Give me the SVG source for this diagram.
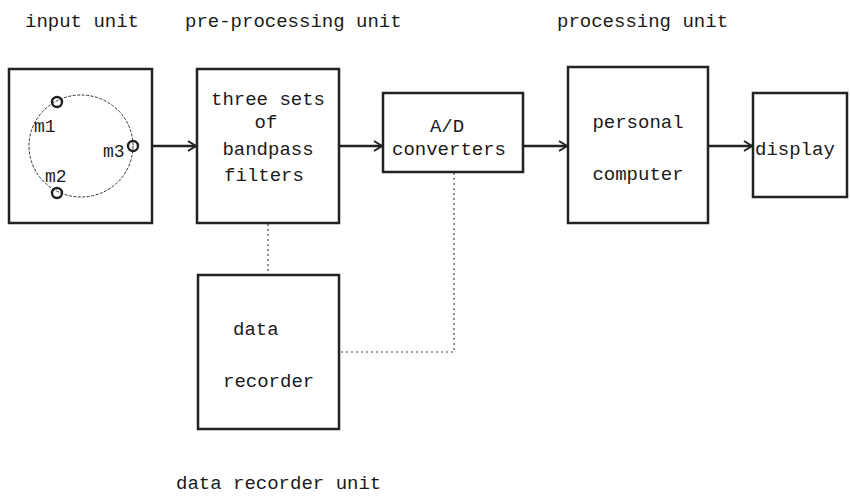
<svg xmlns="http://www.w3.org/2000/svg" width="850" height="497" viewBox="0 0 850 497">
<defs>
<marker id="arr" markerUnits="userSpaceOnUse" markerWidth="12" markerHeight="12" refX="10" refY="6" orient="auto">
<path d="M2,1 L10,6 L2,11" fill="none" stroke="#222" stroke-width="2"/>
</marker>
<style>
.box{fill:#fff;stroke:#222;stroke-width:2.5}
.t{font-family:"Liberation Mono","DejaVu Sans Mono",monospace;font-size:19px;fill:#1a1a1a}
.m{font-family:"Liberation Mono","DejaVu Sans Mono",monospace;font-size:18px;fill:#1a1a1a}
.c{text-anchor:middle}
.arrow{fill:none;stroke:#222;stroke-width:2.5;marker-end:url(#arr)}
.dot{fill:none;stroke:#444;stroke-width:1.2;stroke-dasharray:2 3}
.mic{fill:none;stroke:#222;stroke-width:2.4}
</style>
</defs>
<rect width="850" height="497" fill="#fff"/>
<g id="labels">
<text class="t" x="25" y="27">input unit</text>
<text class="t" x="185" y="27">pre-processing unit</text>
<text class="t" x="557" y="27">processing unit</text>
<text class="t" x="176" y="489">data recorder unit</text>
</g>
<g id="input-unit">
<rect class="box" x="9" y="69" width="143" height="154"/>
<ellipse cx="81" cy="146" rx="52" ry="51" fill="none" stroke="#333" stroke-width="1" stroke-dasharray="3 1.5"/>
<circle class="mic" cx="57" cy="102" r="5"/>
<circle class="mic" cx="57" cy="193" r="5"/>
<circle class="mic" cx="133" cy="146" r="5"/>
<text class="m" x="34" y="132">m1</text>
<text class="m" x="45" y="182">m2</text>
<text class="m" x="103" y="157">m3</text>
</g>
<g id="pre-processing">
<rect class="box" x="197" y="69" width="142" height="154"/>
<text class="t c" x="268" y="105">three sets</text>
<text class="t c" x="266" y="128">of</text>
<text class="t c" x="268" y="155">bandpass</text>
<text class="t c" x="264" y="181">filters</text>
</g>
<g id="ad-converters">
<rect class="box" x="383" y="93" width="140" height="79"/>
<text class="t c" x="447" y="132">A/D</text>
<text class="t c" x="449" y="155">converters</text>
</g>
<g id="personal-computer">
<rect class="box" x="568" y="67" width="140" height="156"/>
<text class="t c" x="638" y="128">personal</text>
<text class="t c" x="638" y="180">computer</text>
</g>
<g id="display">
<rect class="box" x="753" y="93" width="94" height="104"/>
<text class="t" x="755" y="155">display</text>
</g>
<g id="data-recorder">
<rect class="box" x="198" y="275" width="141" height="154"/>
<text class="t" x="233" y="335">data</text>
<text class="t" x="223" y="387">recorder</text>
</g>
<g id="connectors">
<line class="arrow" x1="152" y1="146" x2="196" y2="146"/>
<line class="arrow" x1="339" y1="146" x2="382" y2="146"/>
<line class="arrow" x1="523" y1="146" x2="567" y2="146"/>
<line class="arrow" x1="708" y1="146" x2="752" y2="146"/>
<line class="dot" x1="268" y1="224" x2="268" y2="274"/>
<polyline class="dot" points="454,173 454,352 340,352"/>
</g>
</svg>
